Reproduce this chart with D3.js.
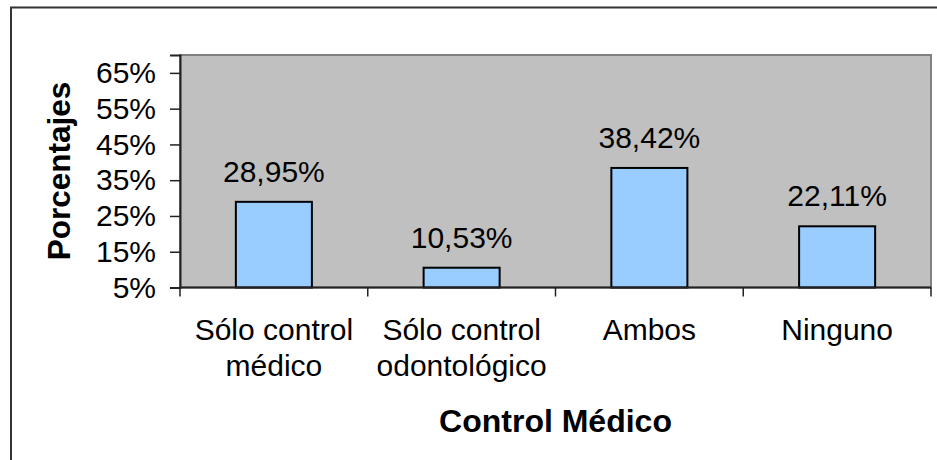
<!DOCTYPE html>
<html>
<head>
<meta charset="utf-8">
<script src="https://cdn.jsdelivr.net/npm/d3@7.9.0/dist/d3.min.js"></script>
<style>
  body { margin: 0; background: #fff; }
  svg { display: block; font-family: "Liberation Sans", Arial, sans-serif; }
</style>
</head>
<body>
<svg id="chart" width="937" height="460"></svg>
<script>
// Data
const categories = [
  ['Sólo control', 'médico'],
  ['Sólo control', 'odontológico'],
  ['Ambos'],
  ['Ninguno']
];
const values = [28.95, 10.53, 38.42, 22.11];
const valueLabels = ['28,95%', '10,53%', '38,42%', '22,11%'];
const yTicks = [5, 15, 25, 35, 45, 55, 65];

const fontSize = 30;
const svg = d3.select('#chart');

// outer chart frame (cut off on right and bottom)
svg.append('path')
  .attr('d', 'M11,460 V7.5 H937')
  .attr('fill', 'none')
  .attr('stroke', '#333')
  .attr('stroke-width', 2);

const plot = { left: 180, right: 931, top: 55, bottom: 287.5 };

const x = d3.scaleBand()
  .domain(d3.range(categories.length))
  .range([plot.left, plot.right])
  .paddingInner(0.595)
  .paddingOuter(0.2975);

const y = d3.scaleLinear()
  .domain([5, 70])
  .range([plot.bottom, plot.top]);

// plot area
svg.append('rect')
  .attr('x', plot.left)
  .attr('y', plot.top)
  .attr('width', plot.right - plot.left)
  .attr('height', plot.bottom - plot.top)
  .attr('fill', '#c0c0c0')
  .attr('stroke', '#808080')
  .attr('stroke-width', 2);

// bars
svg.selectAll('rect.bar')
  .data(values)
  .join('rect')
  .attr('class', 'bar')
  .attr('x', (d, i) => x(i))
  .attr('y', d => y(d))
  .attr('width', x.bandwidth())
  .attr('height', d => y(5) - y(d))
  .attr('fill', '#99ccff')
  .attr('stroke', '#000')
  .attr('stroke-width', 2);

// value labels
svg.selectAll('text.val')
  .data(values)
  .join('text')
  .attr('class', 'val')
  .attr('x', (d, i) => x(i) + x.bandwidth() / 2)
  .attr('y', d => y(d) - 20)
  .attr('text-anchor', 'middle')
  .attr('font-size', fontSize)
  .text((d, i) => valueLabels[i]);

// y axis
const yAxis = svg.append('g')
  .attr('transform', `translate(${plot.left},0)`)
  .call(d3.axisLeft(y).tickValues(yTicks).tickSize(10).tickPadding(14)
    .tickFormat(d => d + '%'));
yAxis.select('.domain').attr('stroke', '#222').attr('stroke-width', 2);
yAxis.selectAll('.tick line').attr('stroke', '#222').attr('stroke-width', 1.5);
yAxis.selectAll('.tick text')
  .attr('font-size', fontSize)
  .attr('font-family', '"Liberation Sans", Arial, sans-serif')
  .attr('fill', '#000');

// x axis line + category ticks at band boundaries
const bounds = d3.range(categories.length + 1);
svg.append('line')
  .attr('x1', plot.left).attr('x2', plot.right)
  .attr('y1', plot.bottom).attr('y2', plot.bottom)
  .attr('stroke', '#222').attr('stroke-width', 2);
const step = (plot.right - plot.left) / categories.length;
svg.selectAll('line.xtick')
  .data(bounds)
  .join('line')
  .attr('class', 'xtick')
  .attr('x1', d => plot.left + d * step)
  .attr('x2', d => plot.left + d * step)
  .attr('y1', plot.bottom)
  .attr('y2', plot.bottom + 9)
  .attr('stroke', '#222')
  .attr('stroke-width', 1.5);

// category labels
const catText = svg.selectAll('text.cat')
  .data(categories)
  .join('text')
  .attr('class', 'cat')
  .attr('text-anchor', 'middle')
  .attr('font-size', fontSize)
  .attr('x', (d, i) => x(i) + x.bandwidth() / 2);
catText.selectAll('tspan')
  .data(d => d)
  .join('tspan')
  .attr('x', function () { return d3.select(this.parentNode).attr('x'); })
  .attr('y', (d, j) => 340 + j * 36)
  .text(d => d);

// axis titles
svg.append('text')
  .attr('x', (plot.left + plot.right) / 2)
  .attr('y', 432)
  .attr('text-anchor', 'middle')
  .attr('font-size', 32)
  .attr('font-weight', 'bold')
  .text('Control Médico');

svg.append('text')
  .attr('transform', 'translate(69.5,171) rotate(-90)')
  .attr('text-anchor', 'middle')
  .attr('font-size', 31.5)
  .attr('font-weight', 'bold')
  .text('Porcentajes');
</script>
</body>
</html>
